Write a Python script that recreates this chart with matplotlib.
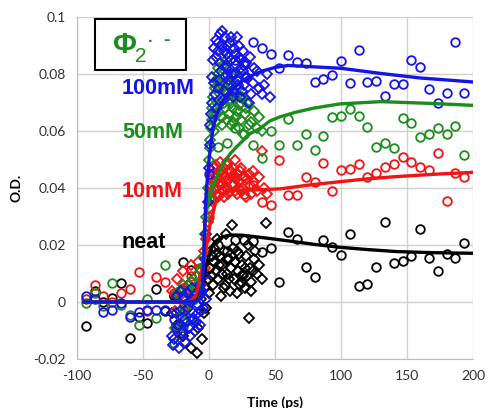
import matplotlib
matplotlib.use("Agg")
import matplotlib.pyplot as plt
from matplotlib.patches import Rectangle

plt.rcParams["axes.unicode_minus"] = False

# ---------------- data ----------------
t_circ = [-93.3, -86.7, -80, -73.3, -66.7, -60, -53.3, -46.7, -40, -33.3, -26.7, -20,
          -13.3, -6.7, 0, 6.7, 13.3, 20, 26.7, 33.3, 40, 46.7, 53.3, 60, 66.7, 73.3,
          80, 86.7, 93.3, 100, 106.7, 113.3, 120, 126.7, 133.3, 140, 146.7, 153.3,
          160, 166.7, 173.3, 180, 186.7, 193.3]

blue_circ = [0.002, 0.001, -0.0034, -0.0028, -0.0005, -0.0052, -0.0034, -0.0028, -0.0028,
             -0.0028, -0.006, 0.002, 0.001, 0.004, 0.045, 0.075, 0.080, 0.085, 0.083,
             0.0914, 0.089, 0.087, 0.082, 0.0865, 0.0843, 0.084, 0.0772, 0.0784, 0.0797,
             0.0846, 0.077, 0.0885, 0.0773, 0.0777, 0.0723, 0.0764, 0.0766, 0.0848,
             0.0826, 0.0749, 0.070, 0.0733, 0.0913, 0.0733]
green_circ = [-0.0002, 0.003, -0.0014, 0.0068, -0.001, -0.0045, -0.0081, 0.001, -0.0057,
              0.013, -0.0145, -0.0087, 0.007, 0.012, 0.036, 0.0545, 0.0557, 0.061, 0.059,
              0.055, 0.0504, 0.060, 0.055, 0.0641, 0.0551, 0.0589, 0.0534, 0.0584, 0.065,
              0.0653, 0.0676, 0.0653, 0.0615, 0.0543, 0.0559, 0.054, 0.0645, 0.0627,
              0.058, 0.059, 0.061, 0.059, 0.0618, 0.0516]
red_circ = [0.001, 0.006, 0.002, 0.0, 0.003, 0.0045, 0.0106, -0.003, 0.0087, 0.0071, 0.003,
            0.005, 0.009, 0.012, 0.030, 0.042, 0.040, 0.044, 0.038, 0.041, 0.035, 0.034,
            0.0498, 0.0376, 0.0376, 0.0438, 0.0422, 0.0487, 0.039, 0.0463, 0.0467, 0.0484,
            0.044, 0.0452, 0.0475, 0.0484, 0.0508, 0.049, 0.0475, 0.0463, 0.0522, 0.0355,
            0.0452, 0.044]
black_circ = [-0.0084, 0.004, 0.0, 0.0013, 0.0066, -0.0126, -0.0052, -0.0075, 0.0045, -0.003,
              0.002, 0.0141, 0.0112, 0.003, 0.012, 0.020, 0.018, 0.0218, 0.0218, 0.0215,
              0.0177, 0.0188, 0.0071, 0.0245, 0.022, 0.0124, 0.0089, 0.0218, 0.0194, 0.0165,
              0.0238, 0.0056, 0.0062, 0.0124, 0.0282, 0.0136, 0.0145, 0.0163, 0.0256,
              0.0153, 0.0109, 0.0167, 0.0155, 0.0208]

blue_dia_t = [-28, -27, -26.5, -25, -24.5, -24, -23, -22.5, -22, -21, -20.5, -20, -19, -18.5,
              -18, -17, -16.5, -16, -15, -14.5, -14, -13, -12.5, -12, -11, -10.5, -10, -9,
              -8.5, -8, -7, -6.5, -6, -5, -4.5, -4, -3, -2.5, -2, -1, 0, 0.5, 1, 1.5, 2, 2.5,
              3, 3.5, 4, 4.5, 5, 5.5, 6, 6.5, 7, 7.5, 8, 8.5, 9, 9.5, 10, 10.5, 11, 11.5, 12,
              12.5, 13, 13.5, 14, 14.5, 15, 15.5, 16, 16.5, 17, 17.5, 18, 18.5, 19, 19.5, 20,
              20.5, 21, 21.5, 22, 22.5, 23, 23.5, 24, 24.5, 25, 25.5, 26, 26.5, 27, 27.5, 28,
              29, 30, 31, 32, 33, 34, 36, 38, 40, 42, 44, 46]
blue_dia_y = [-0.012, -0.015, -0.013, -0.004, -0.009, 0.002, -0.008, -0.016, -0.003, 0.004,
              -0.011, -0.010, 0.001, -0.014, -0.006, 0.003, -0.007, -0.002, -0.009, -0.012,
              0.0, 0.005, -0.006, -0.004, 0.002, -0.010, -0.007, 0.003, -0.004, -0.001, 0.006,
              -0.008, -0.003, 0.004, -0.002, 0.009, 0.015, 0.001, 0.024, 0.035, 0.047, 0.055,
              0.062, 0.066, 0.070, 0.079, 0.085, 0.089, 0.077, 0.073, 0.092, 0.086, 0.068,
              0.091, 0.088, 0.078, 0.094, 0.084, 0.081, 0.095, 0.090, 0.071, 0.074, 0.088,
              0.093, 0.082, 0.083, 0.090, 0.087, 0.076, 0.078, 0.086, 0.091, 0.093, 0.085,
              0.080, 0.072, 0.074, 0.089, 0.087, 0.080, 0.083, 0.093, 0.078, 0.076, 0.090,
              0.086, 0.072, 0.082, 0.085, 0.074, 0.081, 0.088, 0.076, 0.079, 0.084, 0.084,
              0.079, 0.070, 0.086, 0.073, 0.077, 0.082, 0.081, 0.075, 0.073, 0.076, 0.080,
              0.072]

green_dia_t = [-26, -24, -22, -20, -18, -16, -14, -12, -10, -8, -6, -4, -3, -2, -1, 0, 0.5, 1,
               1.5, 2, 2.5, 3, 3.5, 4, 4.5, 5, 5.5, 6, 6.5, 7, 7.5, 8, 8.5, 9, 9.5, 10, 10.5,
               11, 11.5, 12, 12.5, 13, 13.5, 14, 14.5, 15, 15.5, 16, 16.5, 17, 17.5, 18, 18.5,
               19, 19.5, 20, 20.5, 21, 21.5, 22, 22.5, 23, 23.5, 24, 24.5, 25, 26, 27, 28, 29,
               30, 32, 34, 36, 38, 40]
green_dia_y = [-0.009, 0.003, -0.005, 0.006, -0.002, 0.004, -0.006, 0.008, 0.001, 0.005,
               0.011, 0.016, 0.024, 0.030, 0.040, 0.050, 0.054, 0.057, 0.061, 0.064, 0.068,
               0.072, 0.066, 0.060, 0.075, 0.078, 0.063, 0.066, 0.080, 0.082, 0.071, 0.070,
               0.077, 0.075, 0.065, 0.062, 0.083, 0.079, 0.070, 0.068, 0.074, 0.085, 0.064,
               0.073, 0.078, 0.066, 0.071, 0.077, 0.062, 0.070, 0.079, 0.063, 0.068, 0.080,
               0.073, 0.072, 0.065, 0.067, 0.076, 0.075, 0.061, 0.069, 0.072, 0.064, 0.070,
               0.072, 0.059, 0.066, 0.068, 0.070, 0.062, 0.063, 0.067, 0.061, 0.065, 0.060]

red_dia_t = [-28, -26, -24, -22, -20, -18, -16, -14, -12, -10, -8, -6, -4, -3, -2, -1, 0, 0.5,
             1, 1.5, 2, 2.5, 3, 3.5, 4, 4.5, 5, 5.5, 6, 6.5, 7, 7.5, 8, 8.5, 9, 9.5, 10, 10.5,
             11, 11.5, 12, 12.5, 13, 13.5, 14, 14.5, 15, 15.5, 16, 16.5, 17, 17.5, 18, 18.5,
             19, 19.5, 20, 20.5, 21, 21.5, 22, 22.5, 23, 23.5, 24, 24.5, 25, 26, 27, 28, 29,
             30, 31, 32, 33, 34, 36, 38, 40, 42, 44]
red_dia_y = [0.004, -0.003, 0.008, 0.002, 0.011, -0.001, 0.006, 0.013, 0.003, 0.009, 0.014,
             0.006, 0.018, 0.012, 0.022, 0.028, 0.033, 0.036, 0.038, 0.041, 0.043, 0.039,
             0.036, 0.045, 0.047, 0.042, 0.040, 0.048, 0.044, 0.037, 0.038, 0.046, 0.049,
             0.041, 0.042, 0.045, 0.046, 0.039, 0.037, 0.047, 0.044, 0.042, 0.040, 0.049,
             0.048, 0.038, 0.043, 0.046, 0.039, 0.044, 0.046, 0.041, 0.041, 0.047, 0.044,
             0.039, 0.050, 0.043, 0.038, 0.045, 0.045, 0.040, 0.042, 0.046, 0.047, 0.039,
             0.040, 0.044, 0.044, 0.037, 0.043, 0.045, 0.041, 0.038, 0.046, 0.042, 0.039,
             0.044, 0.053, 0.040, 0.038]

black_dia_t = [-28, -26, -24, -22, -20, -18, -16, -14, -12, -10, -9, -8, -6, -5, -4, -3, -2,
               -1, 0, 1, 2, 2.5, 3, 3.5, 4, 5, 5.5, 6, 7, 7.5, 8, 9, 9.5, 10, 11, 11.5, 12,
               13, 13.5, 14, 15, 15.5, 16, 17, 17.5, 18, 19, 19.5, 20, 21, 21.5, 22, 23, 23.5,
               24, 25, 25.5, 26, 27, 27.5, 28, 29, 29.5, 30, 31, 31.5, 32, 33, 34, 35, 36, 38,
               40, 43]
black_dia_y = [-0.004, 0.002, -0.008, 0.004, -0.012, -0.003, 0.006, -0.016, -0.006, 0.003,
               -0.018, -0.009, 0.001, -0.013, -0.004, 0.005, -0.002, 0.008, 0.003, 0.012,
               0.016, 0.009, 0.006, 0.014, 0.019, 0.011, 0.017, 0.022, 0.008, 0.013, 0.016,
               0.002, 0.010, 0.013, 0.018, 0.005, 0.006, 0.024, 0.015, 0.010, 0.015, 0.008,
               0.004, 0.012, 0.027, 0.019, 0.008, 0.014, 0.014, 0.003, 0.018, 0.011, 0.017,
               0.006, 0.007, 0.013, 0.009, 0.010, 0.005, 0.012, 0.016, 0.009, 0.020, -0.0055,
               0.012, 0.004, 0.007, 0.011, 0.015, 0.018, 0.010, 0.013, 0.008, 0.0276]

blue_fit_t = [-95, -15, -8, -6, -5, -4, -3, -2, 0, 3, 6, 10, 15, 20, 25, 30, 40, 50, 60, 80,
              100, 130, 160, 200]
blue_fit_y = [0, 0, 0.0005, 0.002, 0.006, 0.015, 0.029, 0.039, 0.050, 0.061, 0.066, 0.070,
              0.0735, 0.0755, 0.0775, 0.079, 0.081, 0.0823, 0.083, 0.0825, 0.082, 0.0802,
              0.0786, 0.0772]
green_fit_t = [-95, -15, -8, -6, -5, -4, -3, -1, 1, 5, 10, 16, 21, 31, 39, 46, 54, 65, 79,
               99, 130, 167, 200]
green_fit_y = [0, 0, 0.0005, 0.003, 0.008, 0.018, 0.029, 0.034, 0.038, 0.043, 0.048, 0.052,
               0.0545, 0.059, 0.061, 0.0635, 0.065, 0.0665, 0.068, 0.0695, 0.0703, 0.0697,
               0.069]
red_fit_t = [-95, -15, -10, -7, -4, -1, 1, 3, 5, 8, 13, 20, 30, 40, 54, 75, 99, 120, 142, 170,
             200]
red_fit_y = [0, 0, 0.002, 0.008, 0.014, 0.022, 0.028, 0.031, 0.035, 0.037, 0.039, 0.0392,
             0.0393, 0.0394, 0.0397, 0.041, 0.0422, 0.0432, 0.044, 0.0448, 0.0455]
black_fit_t = [-95, -15, -9, -6, -4, -2, 0, 2, 4, 7, 10, 15, 20, 26, 35, 44, 54, 64, 80, 99,
               120, 142, 170, 200]
black_fit_y = [0, 0, 0.001, 0.004, 0.008, 0.013, 0.016, 0.019, 0.0208, 0.022, 0.0228, 0.0234,
               0.0235, 0.0234, 0.0229, 0.0224, 0.0218, 0.0212, 0.0202, 0.0192, 0.0184,
               0.0177, 0.0173, 0.0171]

x_ticks = [-100, -50, 0, 50, 100, 150, 200]
y_ticks = [-0.02, 0, 0.02, 0.04, 0.06, 0.08, 0.1]
y_ticklabels = ["-0.02", "0", "0.02", "0.04", "0.06", "0.08", "0.1"]

series_labels = ["100mM", "50mM", "10mM", "neat"]
label_y = [0.073, 0.0575, 0.037, 0.019]

C_BLUE = "#1414e6"
C_GREEN = "#1c8c1c"
C_RED = "#f01414"
C_BLACK = "#000000"

# ---------------- figure ----------------
fig = plt.figure(figsize=(4.88, 4.08), dpi=100)
ax = fig.add_axes([77 / 488, 1 - 359 / 408, 396 / 488, 342 / 408])

ms_c = 6.2
ms_d = 5.0
mew = 1.3

groups = [
    (C_BLACK, black_circ, black_dia_t, black_dia_y),
    (C_RED, red_circ, red_dia_t, red_dia_y),
    (C_GREEN, green_circ, green_dia_t, green_dia_y),
    (C_BLUE, blue_circ, blue_dia_t, blue_dia_y),
]
for col, yc, td, yd in groups:
    ax.plot(t_circ, yc, linestyle="none", marker="o", ms=ms_c, mfc="none", mec=col, mew=mew,
            zorder=3)
    ax.plot(td, yd, linestyle="none", marker="D", ms=ms_d, mfc="none", mec=col, mew=mew,
            zorder=3)

fits = [
    (C_BLACK, black_fit_t, black_fit_y),
    (C_RED, red_fit_t, red_fit_y),
    (C_GREEN, green_fit_t, green_fit_y),
    (C_BLUE, blue_fit_t, blue_fit_y),
]
for col, tf, yf in fits:
    ax.plot(tf, yf, color=col, lw=2.4, zorder=4, solid_capstyle="round")

ax.set_xlim(-100, 200)
ax.set_ylim(-0.02, 0.1)
ax.set_xticks(x_ticks)
ax.set_yticks(y_ticks)
ax.set_yticklabels(y_ticklabels)
ax.grid(True, color="#d0d0d0", lw=1.0, zorder=0)
ax.set_axisbelow(True)
for s in ax.spines.values():
    s.set_visible(False)
ax.spines["left"].set_visible(True)
ax.spines["bottom"].set_visible(True)
ax.spines["left"].set_color("#bfbfbf")
ax.spines["bottom"].set_color("#bfbfbf")
ax.tick_params(length=0, pad=8, labelsize=10, labelcolor="#303030")
for lab in ax.get_xticklabels() + ax.get_yticklabels():
    lab.set_fontfamily("Lato")

ax.set_xlabel("Time (ps)", fontfamily="Lato", fontweight="bold", fontsize=10, labelpad=10)
ax.set_ylabel("O.D.", fontfamily="Lato", fontweight="bold", fontsize=10, labelpad=8)

label_colors = [C_BLUE, C_GREEN, C_RED, C_BLACK]
for txt, yy, col in zip(series_labels, label_y, label_colors):
    ax.text(-66, yy, txt, color=col, fontsize=15.5, fontweight="bold",
            fontfamily="Liberation Sans", va="baseline", ha="left", zorder=6)

# Phi box
ax.add_patch(Rectangle((0.0455, 0.845), 0.23, 0.149, transform=ax.transAxes,
                       facecolor="white", edgecolor="black", lw=1.5, zorder=7))
W, H = 488.0, 408.0
fig.text(112 / W, 1 - 53 / H, "Φ", color=C_GREEN, fontsize=21, fontweight="bold",
         fontfamily="Liberation Sans", va="baseline", ha="left", zorder=8)
fig.text(135 / W, 1 - 62 / H, "2", color=C_GREEN, fontsize=15,
         fontfamily="Liberation Sans", va="baseline", ha="left", zorder=8)
fig.text(148 / W, 1 - 46 / H, "·", color=C_GREEN, fontsize=12, fontweight="bold",
         fontfamily="Liberation Sans", va="baseline", ha="left", zorder=8)
fig.text(163 / W, 1 - 45 / H, "-", color=C_GREEN, fontsize=14, fontweight="bold",
         fontfamily="Liberation Sans", va="baseline", ha="left", zorder=8)

fig.savefig("out.png", dpi=100)
